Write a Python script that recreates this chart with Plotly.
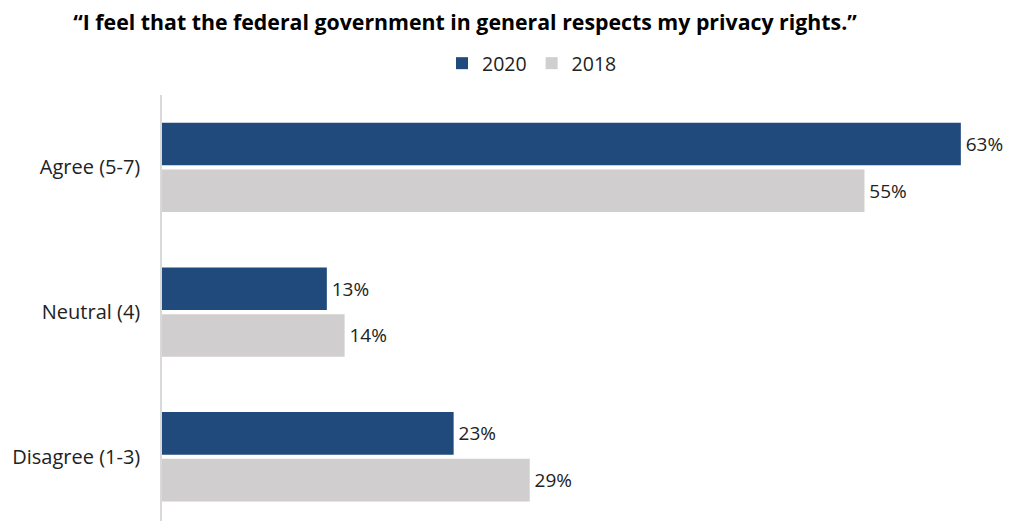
import plotly.graph_objects as go

categories = ["Agree (5-7)", "Neutral (4)", "Disagree (1-3)"]
values_2020 = [63, 13, 23]
values_2018 = [55.4, 14.4, 29]
series_names = ["2020", "2018"]
colors = ["#204A7B", "#D0CECE"]
title_text = "“I feel that the federal government in general respects my privacy rights.”"

FONT = "Open Sans"
# the page body adds an 8px margin on every side, so the figure is drawn smaller
OFF = 8
W, H = 1013 - OFF, 529 - 2 * OFF
TOP = 95 - OFF
CAT_PX = 144.7  # pixels per category band in the reference
y_span = (H - TOP) / CAT_PX

fig = go.Figure()
for name, vals, col in zip(series_names, [values_2020, values_2018], colors):
    fig.add_trace(go.Bar(
        y=categories, x=vals, name=name, orientation="h",
        marker=dict(color=col, line=dict(width=0)),
        texttemplate="\u200a%{x:.0f}%", textposition="outside",
        textfont=dict(family=FONT, size=19, color="#222222"),
        cliponaxis=False, hoverinfo="skip",
    ))

fig.update_layout(
    width=W, height=H,
    margin=dict(l=162 - OFF, r=1, t=TOP, b=0, autoexpand=False),
    paper_bgcolor="white", plot_bgcolor="white",
    barmode="group", bargap=0.354, bargroupgap=0.09,
    title=dict(text="<b>" + title_text + "</b>", x=(465 - OFF) / W, xanchor="center",
               xref="container",
               y=1 - (23 - OFF) / H, yanchor="middle", yref="container",
               font=dict(family=FONT, size=21.3, color="#000000")),
    legend=dict(orientation="h", xref="container", yref="container",
                x=(442 - OFF) / W, xanchor="left", y=1 - (63.5 - OFF) / H, yanchor="middle",
                font=dict(family=FONT, size=19.5, color="#222222"),
                itemwidth=30, traceorder="normal", bgcolor="rgba(0,0,0,0)"),
    xaxis=dict(range=[0, 850 / 12.68], visible=False, fixedrange=True),
    yaxis=dict(autorange=False, range=[y_span - 0.5, -0.5], showline=True, linecolor="#D9D9D9",
               linewidth=1.5, ticks="", ticklabelstandoff=16, showgrid=False,
               tickfont=dict(family=FONT, size=20, color="#222222")),
    showlegend=True,
)

fig.write_html("out.html")
